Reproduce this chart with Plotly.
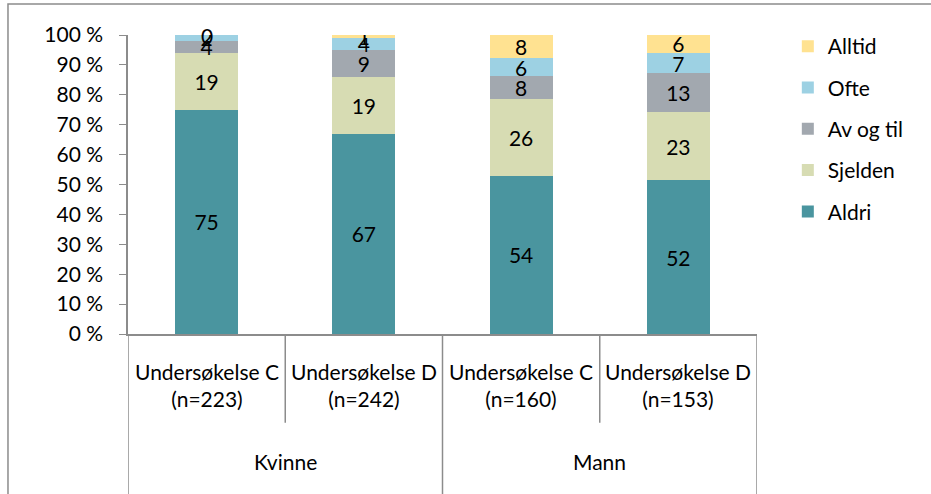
import plotly.graph_objects as go

# Kategorier (kjønn / undersøkelse)
groups = ["Kvinne", "Kvinne", "Mann", "Mann"]
surveys = ["Undersøkelse C", "Undersøkelse D", "Undersøkelse C", "Undersøkelse D"]
n_values = [223, 242, 160, 153]
categories = ["K-C", "K-D", "M-C", "M-D"]

# Svar i prosent
aldri = [75, 67, 54, 52]
sjelden = [19, 19, 26, 23]
av_og_til = [4, 9, 8, 13]
ofte = [2, 4, 6, 7]
alltid = [0, 1, 8, 6]

series = [
    ("Aldri", aldri, "#4A959F"),
    ("Sjelden", sjelden, "#D7DCB3"),
    ("Av og til", av_og_til, "#A2A8AF"),
    ("Ofte", ofte, "#9DD1E3"),
    ("Alltid", alltid, "#FFE291"),
]

FONT = "Lato"
AXIS = "#8C8C8C"
TXT = dict(size=21, family=FONT, color="black")

fig = go.Figure()
for k, (name, vals, col) in enumerate(series):
    fig.add_trace(go.Bar(
        x=categories, y=vals, name=name, legendgroup=name,
        legendrank=len(series) - k,
        marker=dict(color=col, line=dict(width=0)),
        text=vals, texttemplate="%{text}", textposition="inside",
        insidetextanchor="middle", textangle=0,
        textfont=TXT, width=0.4,
    ))

annotations = []
# nullverdier får etikett på toppen av stolpen (plotly tegner ikke tekst for tomme stolper)
for c, v in zip(categories, alltid):
    if v == 0:
        annotations.append(dict(x=c, xref="x", y=100, yref="y", text=str(v),
                                showarrow=False, yanchor="middle", font=TXT))

shapes = []
# skillelinjer under x-aksen
for i in range(len(categories) + 1):
    outer = i == 0 or i == len(categories) or groups[i - 1] != groups[i]
    shapes.append(dict(type="line", xref="x", yref="paper",
                       x0=i - 0.5, x1=i - 0.5, y0=0, y1=-0.6 if outer else -0.297,
                       line=dict(color=AXIS, width=1.5)))
# ramme rundt figuren
shapes.append(dict(type="rect", xref="paper", yref="paper",
                   x0=-0.1908, x1=1.4, y0=-0.7, y1=1.1037,
                   line=dict(color=AXIS, width=1.5)))

for c, s, n in zip(categories, surveys, n_values):
    annotations.append(dict(x=c, xref="x", y=-0.172, yref="paper",
                            text=f"{s}<br>(n={n})", showarrow=False,
                            yanchor="middle", font=TXT))
for g in ["Kvinne", "Mann"]:
    idx = [i for i, gg in enumerate(groups) if gg == g]
    annotations.append(dict(x=(idx[0] + idx[-1]) / 2, xref="x", y=-0.428, yref="paper",
                            text=g, showarrow=False, yanchor="middle", font=TXT))

fig.update_layout(
    barmode="stack", barnorm="percent",
    width=931, height=494,
    margin=dict(l=128, r=174, t=35, b=160),
    paper_bgcolor="white", plot_bgcolor="white",
    font=dict(family=FONT, size=21, color="black"),
    uniformtext=dict(minsize=21, mode="show"),
    showlegend=True,
    legend=dict(x=1.049, y=1.03, xanchor="left", yanchor="top",
                traceorder="grouped", tracegroupgap=11, font=TXT),
    shapes=shapes, annotations=annotations,
)
fig.update_xaxes(showticklabels=False, showline=True, linecolor=AXIS, linewidth=1.5,
                 ticks="", range=[-0.5, 3.5])
ticks = list(range(0, 101, 10))
fig.update_yaxes(range=[0, 100], tickmode="array", tickvals=ticks,
                 ticktext=[f"{t} %" for t in ticks],
                 showline=True, linecolor=AXIS, linewidth=1.5, ticks="outside",
                 ticklen=7, tickcolor=AXIS, showgrid=False, zeroline=False,
                 ticklabelstandoff=12, tickfont=TXT)

fig.write_html("out.html", config={"displayModeBar": False},
               post_script="document.body.style.margin='0px';")
